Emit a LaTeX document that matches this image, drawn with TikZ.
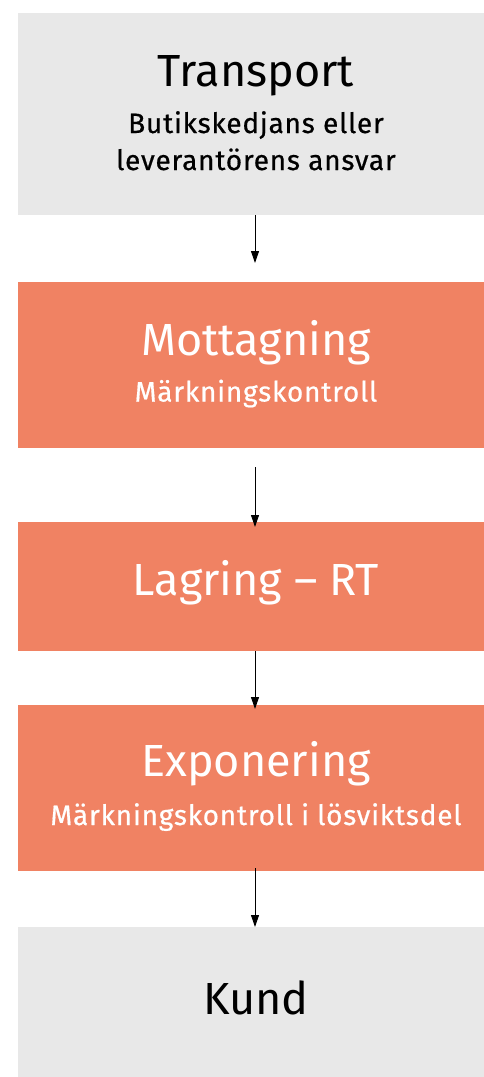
\documentclass[tikz,border=0pt]{standalone}
\usepackage{fontspec}
\setmainfont{Fira Sans}
\newfontfamily\subfont[LetterSpace=2.8,FakeBold=0.6]{Fira Sans}
\usetikzlibrary{arrows.meta}
\definecolor{boxgray}{HTML}{E8E8E8}
\definecolor{boxorange}{HTML}{F08263}
\begin{document}
\begin{tikzpicture}[x=1pt,y=-1pt,
  graybox/.style={fill=boxgray,draw=none},
  orangebox/.style={fill=boxorange,draw=none},
  titletext/.style={anchor=base,inner sep=0pt,font=\fontsize{45}{50}\selectfont},
  subtext/.style={anchor=base,inner sep=0pt,font=\subfont\fontsize{28}{32}\selectfont},
  flow/.style={draw=black,line width=1pt,-{Triangle[length=12pt,width=8pt]}}]
\useasboundingbox (0,0) rectangle (483,1077);
\node[graybox,minimum width=480pt,minimum height=202pt,anchor=north west,inner sep=0pt] (t) at (18,13) {};
\node[orangebox,minimum width=480pt,minimum height=166pt,anchor=north west,inner sep=0pt] (m) at (18,282) {};
\node[orangebox,minimum width=480pt,minimum height=129pt,anchor=north west,inner sep=0pt] (l) at (18,522) {};
\node[orangebox,minimum width=480pt,minimum height=166pt,anchor=north west,inner sep=0pt] (e) at (18,705) {};
\node[graybox,minimum width=480pt,minimum height=150pt,anchor=north west,inner sep=0pt] (k) at (18,927) {};
\node[titletext,text=black] (t1) at (256,86) {Transport};
\node[subtext,text=black] (t2) at (256,133) {Butikskedjans eller};
\node[subtext,text=black] (t3) at (256,170) {leverantörens ansvar};
\node[titletext,text=white] (m1) at (256,355) {Mottagning};
\node[subtext,text=white] (m2) at (256,401.5) {Märkningskontroll};
\node[titletext,text=white] (l1) at (256,595) {Lagring – RT};
\node[titletext,text=white] (e1) at (256,776.5) {Exponering};
\node[subtext,text=white] (e2) at (256,825) {Märkningskontroll i lösviktsdel};
\node[titletext,text=black] (k1) at (256,1014) {Kund};
\draw[flow,shorten >=19pt] (t.south -| 255,0) -- (m.north -| 255,0);
\draw[flow,shorten <=19pt,shorten >=-5pt] (m.south -| 255,0) -- (l.north -| 255,0);
\draw[flow,shorten >=-4pt] (l.south -| 255,0) -- (e.north -| 255,0);
\draw[flow,shorten <=-3pt] (e.south -| 255,0) -- (k.north -| 255,0);
\end{tikzpicture}
\end{document}
